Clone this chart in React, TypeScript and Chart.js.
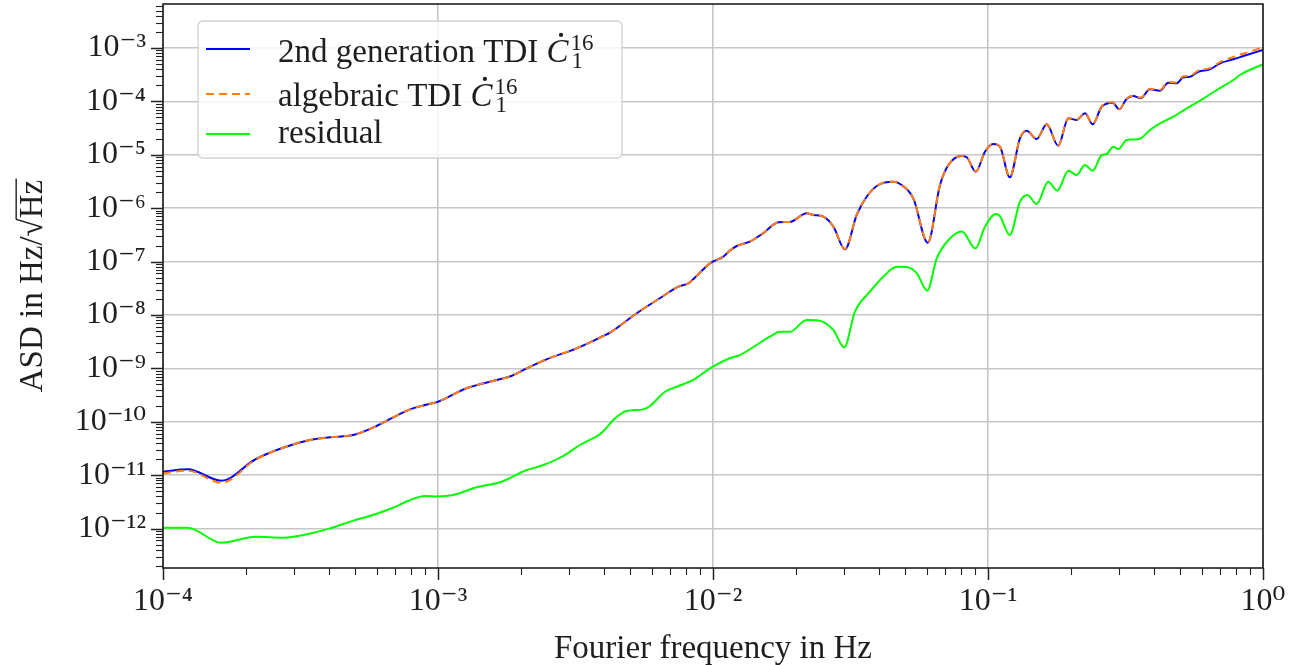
import React, { useEffect, useRef } from 'react';
import { Chart, registerables } from 'chart.js';

Chart.register(...registerables);

// ---------- data ----------
const freqMain = [
  1.0e-4, 1.23e-4, 1.63e-4, 2.17e-4, 2.73e-4, 3.42e-4, 4.05e-4, 4.92e-4, 5.8e-4, 7.8e-4,
  8.97e-4, 1.0e-3, 1.27e-3, 1.635e-3, 1.85e-3, 2.1e-3, 2.48e-3, 3.19e-3, 3.99e-3, 4.22e-3,
  5.28e-3, 6.41e-3, 7.48e-3, 8.13e-3, 8.47e-3, 9.75e-3, 1.09e-2, 1.15e-2, 1.22e-2, 1.36e-2,
  1.52e-2, 1.73e-2, 1.905e-2, 2.19e-2, 2.32e-2, 2.52e-2, 2.74e-2, 3.02e-2, 3.33e-2, 3.62e-2,
  3.99e-2, 4.53e-2, 4.79e-2, 5.35e-2, 6.04e-2, 6.69e-2, 7.18e-2, 8.02e-2, 8.37e-2, 9.03e-2,
  9.75e-2, 1.045e-1, 1.105e-1, 1.2e-1, 1.307e-1, 1.382e-1, 1.503e-1, 1.635e-1, 1.8e-1, 1.96e-1,
  2.1e-1, 2.253e-1, 2.403e-1, 2.59e-1, 2.84e-1, 3.0e-1, 3.19e-1, 3.375e-1, 3.59e-1, 3.88e-1,
  4.22e-1, 4.525e-1, 4.85e-1, 5.13e-1, 5.43e-1, 5.815e-1, 6.41e-1, 6.98e-1, 7.8e-1, 8.72e-1,
  1.0,
];

const asd2ndGen = [
  1.16e-11, 1.29e-11, 7.9e-12, 1.99e-11, 3.27e-11, 4.56e-11, 5.13e-11, 5.66e-11, 7.76e-11, 1.66e-10,
  2.06e-10, 2.38e-10, 4.24e-10, 6.07e-10, 7.21e-10, 1.0e-9, 1.48e-9, 2.38e-9, 4.05e-9, 4.67e-9,
  1.08e-8, 2.06e-8, 3.39e-8, 3.93e-8, 4.67e-8, 9.29e-8, 1.24e-7, 1.6e-7, 1.96e-7, 2.36e-7,
  3.39e-7, 5.45e-7, 5.52e-7, 8.02e-7, 7.46e-7, 6.93e-7, 4.51e-7, 1.7e-7, 7.46e-7, 1.64e-6,
  2.72e-6, 3.13e-6, 2.84e-6, 1.53e-6, 2.26e-7, 2.72e-6, 6.44e-6, 9.5e-6, 8.98e-6, 4.83e-6,
  1.14e-5, 1.59e-5, 1.42e-5, 3.79e-6, 2.04e-5, 2.83e-5, 1.98e-5, 3.73e-5, 1.48e-5, 4.83e-5,
  4.49e-5, 5.98e-5, 3.73e-5, 7.96e-5, 9.46e-5, 7.11e-5, 1.11e-4, 1.26e-4, 1.14e-4, 1.69e-4,
  1.59e-4, 2.24e-4, 2.18e-4, 2.83e-4, 2.9e-4, 3.6e-4, 3.99e-4, 5.17e-4, 6.14e-4, 7.4e-4,
  9.18e-4,
];

const asdAlgebraic = [
  1.08e-11, 1.22e-11, 7.2e-12, 1.95e-11, 3.27e-11, 4.56e-11, 5.13e-11, 5.66e-11, 7.76e-11, 1.66e-10,
  2.06e-10, 2.38e-10, 4.24e-10, 6.07e-10, 7.21e-10, 1.0e-9, 1.48e-9, 2.38e-9, 4.05e-9, 4.67e-9,
  1.08e-8, 2.06e-8, 3.39e-8, 3.93e-8, 4.67e-8, 9.29e-8, 1.24e-7, 1.6e-7, 1.96e-7, 2.36e-7,
  3.39e-7, 5.45e-7, 5.52e-7, 8.02e-7, 7.46e-7, 6.93e-7, 4.51e-7, 1.72e-7, 7.46e-7, 1.64e-6,
  2.72e-6, 3.13e-6, 2.84e-6, 1.53e-6, 2.3e-7, 2.72e-6, 6.44e-6, 9.5e-6, 8.98e-6, 4.9e-6,
  1.14e-5, 1.6e-5, 1.43e-5, 3.85e-6, 2.05e-5, 2.85e-5, 2.0e-5, 3.75e-5, 1.5e-5, 4.9e-5,
  4.55e-5, 6.05e-5, 3.8e-5, 8.1e-5, 9.6e-5, 7.2e-5, 1.13e-4, 1.28e-4, 1.17e-4, 1.73e-4,
  1.64e-4, 2.31e-4, 2.26e-4, 2.95e-4, 3.03e-4, 3.78e-4, 4.2e-4, 5.45e-4, 6.8e-4, 8.2e-4,
  1.02e-3,
];

const freqResidual = [
  1.0e-4, 1.23e-4, 1.63e-4, 2.17e-4, 2.73e-4, 3.37e-4, 4.05e-4, 4.92e-4, 5.8e-4, 6.86e-4,
  7.8e-4, 8.97e-4, 1.0e-3, 1.137e-3, 1.383e-3, 1.705e-3, 2.07e-3, 2.415e-3, 2.855e-3, 3.28e-3,
  3.94e-3, 4.4e-3, 4.85e-3, 5.58e-3, 5.9e-3, 6.69e-3, 7.38e-3, 8.47e-3, 9.88e-3, 1.15e-2,
  1.253e-2, 1.42e-2, 1.61e-2, 1.75e-2, 1.905e-2, 2.19e-2, 2.415e-2, 2.74e-2, 3.0e-2, 3.28e-2,
  3.72e-2, 4.16e-2, 4.66e-2, 5.06e-2, 5.51e-2, 6.01e-2, 6.51e-2, 7.18e-2, 8.04e-2, 9.0e-2,
  9.75e-2, 1.067e-1, 1.105e-1, 1.2e-1, 1.307e-1, 1.39e-1, 1.503e-1, 1.656e-1, 1.787e-1, 1.96e-1,
  2.1e-1, 2.253e-1, 2.403e-1, 2.59e-1, 2.7e-1, 2.855e-1, 2.98e-1, 3.19e-1, 3.36e-1, 3.59e-1,
  3.88e-1, 4.22e-1, 4.72e-1, 5.28e-1, 5.9e-1, 6.79e-1, 7.8e-1, 8.24e-1, 1.0,
];

const asdResidual = [
  1.04e-12, 1.04e-12, 5.44e-13, 7.05e-13, 6.76e-13, 7.92e-13, 1.01e-12, 1.41e-12, 1.8e-12, 2.46e-12,
  3.33e-12, 4.07e-12, 4.0e-12, 4.26e-12, 5.93e-12, 7.55e-12, 1.21e-11, 1.55e-11, 2.29e-11, 3.68e-11,
  6.25e-11, 1.16e-10, 1.59e-10, 1.71e-10, 1.98e-10, 3.66e-10, 4.54e-10, 6.07e-10, 1.05e-9, 1.55e-9,
  1.78e-9, 2.63e-9, 3.93e-9, 4.87e-9, 4.87e-9, 8.05e-9, 7.9e-9, 5.24e-9, 2.48e-9, 1.15e-8,
  2.73e-8, 5.21e-8, 8.02e-8, 7.9e-8, 6.04e-8, 2.85e-8, 1.15e-7, 2.54e-7, 3.66e-7, 1.77e-7,
  4.51e-7, 7.78e-7, 7.14e-7, 3.15e-7, 1.32e-6, 1.77e-6, 1.2e-6, 3.13e-6, 2.13e-6, 5.04e-6,
  4.19e-6, 6.44e-6, 5.04e-6, 9.91e-6, 1.035e-5, 1.42e-5, 1.285e-5, 1.89e-5, 1.93e-5, 2.04e-5,
  2.91e-5, 3.89e-5, 5.17e-5, 7.43e-5, 1.03e-4, 1.635e-4, 2.52e-4, 3.12e-4, 5.0e-4,
];

const seriesLabels = ['2nd generation TDI Ċ₁¹⁶', 'algebraic TDI Ċ₁¹⁶', 'residual'];

const xMajorTicks = [1e-4, 1e-3, 1e-2, 1e-1, 1];
const xTickLabels = ['10⁻⁴', '10⁻³', '10⁻²', '10⁻¹', '10⁰'];
const yMajorTicks = [1e-12, 1e-11, 1e-10, 1e-9, 1e-8, 1e-7, 1e-6, 1e-5, 1e-4, 1e-3];
const yTickLabels = ['10⁻¹²', '10⁻¹¹', '10⁻¹⁰', '10⁻⁹', '10⁻⁸', '10⁻⁷', '10⁻⁶', '10⁻⁵', '10⁻⁴', '10⁻³'];

const X_MIN = 1e-4;
const X_MAX = 1;
const Y_MIN = 1.83e-13;
const Y_MAX = 6.67e-3;

const X_TITLE = 'Fourier frequency in Hz';
const Y_TITLE = 'ASD in Hz/√Hz';

// ---------- styling ----------
const FONT = "'Liberation Serif', 'DejaVu Serif', serif";
const TEXT_COLOR = '#1e1e1e';
const TICK_SIZE = 32;
const TITLE_SIZE = 33;
const Y_TITLE_PAD = 14;
const GRID_COLOR = '#c6c6c6';

function allLogTicks(min: number, max: number, majors: number[]) {
  const out: { value: number; major: boolean }[] = [];
  const e0 = Math.floor(Math.log10(min));
  const e1 = Math.ceil(Math.log10(max));
  for (let e = e0; e <= e1; e++) {
    for (let m = 1; m < 10; m++) {
      const v = m * Math.pow(10, e);
      if (v >= min * 0.99999 && v <= max * 1.00001) {
        out.push({ value: v, major: m === 1 && majors.some((t) => Math.abs(t / v - 1) < 1e-6) });
      }
    }
  }
  return out;
}

function labelFor(value: number, majors: number[], labels: string[]) {
  const i = majors.findIndex((t) => Math.abs(t / value - 1) < 1e-6);
  return i >= 0 ? labels[i] : '';
}

function drawLegendLabel(ctx: CanvasRenderingContext2D, label: string, x: number, y: number, size: number) {
  const m = label.match(/^(.*)Ċ₁¹⁶$/);
  ctx.fillStyle = TEXT_COLOR;
  ctx.textBaseline = 'alphabetic';
  ctx.textAlign = 'left';
  ctx.font = `${size}px ${FONT}`;
  if (!m) {
    ctx.fillText(label, x, y);
    return;
  }
  const before = m[1];
  ctx.fillText(before, x, y);
  const cx = x + ctx.measureText(before).width;
  ctx.font = `italic ${size}px ${FONT}`;
  ctx.fillText('C', cx, y);
  const cw = ctx.measureText('C').width;
  ctx.beginPath();
  ctx.arc(cx + cw * 0.66, y - size * 0.82, size * 0.065, 0, Math.PI * 2);
  ctx.fill();
  const sx = cx + cw + 2;
  const small = Math.round(size * 0.7);
  ctx.font = `${small}px ${FONT}`;
  ctx.fillText('16', sx, y - size * 0.36);
  ctx.fillText('1', sx + 1, y + size * 0.19);
}

const decorPlugin = {
  id: 'decor',
  afterDatasetsDraw(chart: any) {
    const { ctx, chartArea: a, scales } = chart;
    const xs = scales.x;
    const ys = scales.y;
    ctx.save();

    // axes frame
    ctx.strokeStyle = '#111';
    ctx.lineWidth = 1.5;
    ctx.strokeRect(a.left, a.top, a.right - a.left, a.bottom - a.top);

    // outward tick marks
    ctx.strokeStyle = '#222';
    for (const t of xs.ticks) {
      const px = Math.round(xs.getPixelForValue(t.value)) + 0.5;
      ctx.lineWidth = t.major ? 1.5 : 1.1;
      ctx.beginPath();
      ctx.moveTo(px, a.bottom);
      ctx.lineTo(px, a.bottom + (t.major ? 12 : 7));
      ctx.stroke();
    }
    for (const t of ys.ticks) {
      const py = Math.round(ys.getPixelForValue(t.value)) + 0.5;
      ctx.lineWidth = t.major ? 1.5 : 1.1;
      ctx.beginPath();
      ctx.moveTo(a.left, py);
      ctx.lineTo(a.left - (t.major ? 12 : 7), py);
      ctx.stroke();
    }

    // overline of the square root in the y title
    ctx.font = `${TITLE_SIZE}px ${FONT}`;
    ctx.textBaseline = 'middle';
    const tw = ctx.measureText(Y_TITLE).width;
    const pre = Y_TITLE.slice(0, Y_TITLE.indexOf('√') + 1);
    const pw = ctx.measureText(pre).width;
    const asc = ctx.measureText('√').actualBoundingBoxAscent;
    const cy = (ys.top + ys.bottom) / 2;
    const tx = ys.left + Y_TITLE_PAD + (TITLE_SIZE * 1.2) / 2;
    const yStart = cy + tw / 2;
    ctx.strokeStyle = TEXT_COLOR;
    ctx.lineWidth = 1.4;
    ctx.beginPath();
    ctx.moveTo(tx - asc + 0.7, yStart - pw + 1);
    ctx.lineTo(tx - asc + 0.7, yStart - tw - 1);
    ctx.stroke();

    // legend
    const lx = a.left + 35;
    const ly = a.top + 17;
    const lw = 424;
    const lh = 137;
    ctx.beginPath();
    if (ctx.roundRect) ctx.roundRect(lx, ly, lw, lh, 5);
    else ctx.rect(lx, ly, lw, lh);
    ctx.fillStyle = 'rgba(255,255,255,0.8)';
    ctx.fill();
    ctx.strokeStyle = '#d2d2d2';
    ctx.lineWidth = 1.3;
    ctx.stroke();

    const rowLine = [28, 73, 113];
    const rowText = [41, 85, 122];
    chart.data.datasets.forEach((ds: any, i: number) => {
      ctx.save();
      ctx.strokeStyle = ds.borderColor;
      ctx.lineWidth = ds.borderWidth;
      ctx.setLineDash(ds.borderDash || []);
      ctx.beginPath();
      ctx.moveTo(lx + 8, ly + rowLine[i]);
      ctx.lineTo(lx + 52, ly + rowLine[i]);
      ctx.stroke();
      ctx.restore();
      drawLegendLabel(ctx, ds.label, lx + 80, ly + rowText[i], TITLE_SIZE);
    });

    ctx.restore();
  },
};

export default function App() {
  const canvasRef = useRef<HTMLCanvasElement | null>(null);

  useEffect(() => {
    if (!canvasRef.current) return;
    const xTicks = allLogTicks(X_MIN, X_MAX, xMajorTicks);
    const yTicks = allLogTicks(Y_MIN, Y_MAX, yMajorTicks);

    const chart = new Chart(canvasRef.current, {
      type: 'line',
      data: {
        datasets: [
          {
            label: seriesLabels[0],
            data: freqMain.map((f, i) => ({ x: f, y: asd2ndGen[i] })),
            borderColor: '#0000ff',
            borderWidth: 2,
            pointRadius: 0,
            cubicInterpolationMode: 'monotone',
            order: 3,
          },
          {
            label: seriesLabels[1],
            data: freqMain.map((f, i) => ({ x: f, y: asdAlgebraic[i] })),
            borderColor: '#ff7f0e',
            borderWidth: 2,
            borderDash: [8, 5],
            pointRadius: 0,
            cubicInterpolationMode: 'monotone',
            order: 2,
          },
          {
            label: seriesLabels[2],
            data: freqResidual.map((f, i) => ({ x: f, y: asdResidual[i] })),
            borderColor: '#00ff00',
            borderWidth: 2,
            pointRadius: 0,
            cubicInterpolationMode: 'monotone',
            order: 1,
          },
        ],
      },
      options: {
        animation: false,
        responsive: true,
        maintainAspectRatio: false,
        layout: { padding: { left: 0, top: 4, right: 31, bottom: 0 } },
        plugins: {
          legend: { display: false },
          tooltip: { enabled: false },
        },
        scales: {
          x: {
            type: 'logarithmic',
            min: X_MIN,
            max: X_MAX,
            afterBuildTicks: (s: any) => {
              s.ticks = xTicks.map((t) => ({ ...t }));
            },
            afterFit: (s: any) => {
              s.height = 97;
              s.paddingLeft = 0;
              s.paddingRight = 0;
            },
            ticks: {
              autoSkip: false,
              maxRotation: 0,
              minRotation: 0,
              padding: 14,
              color: TEXT_COLOR,
              font: { family: FONT, size: TICK_SIZE },
              callback: (v: any) => labelFor(Number(v), xMajorTicks, xTickLabels),
            },
            grid: {
              drawTicks: false,
              lineWidth: 1.6,
              color: (c: any) => (c.tick && c.tick.major ? GRID_COLOR : 'rgba(0,0,0,0)'),
            },
            border: { display: false },
            title: {
              display: true,
              text: X_TITLE,
              color: TEXT_COLOR,
              font: { family: FONT, size: TITLE_SIZE, lineHeight: 0.97 },
              padding: { top: 0, bottom: 0 },
            },
          },
          y: {
            type: 'logarithmic',
            min: Y_MIN,
            max: Y_MAX,
            afterBuildTicks: (s: any) => {
              s.ticks = yTicks.map((t) => ({ ...t }));
            },
            afterFit: (s: any) => {
              s.width = 163;
              s.paddingTop = 0;
              s.paddingBottom = 0;
            },
            ticks: {
              autoSkip: false,
              padding: 17,
              color: TEXT_COLOR,
              font: { family: FONT, size: TICK_SIZE },
              callback: (v: any) => labelFor(Number(v), yMajorTicks, yTickLabels),
            },
            grid: {
              drawTicks: false,
              lineWidth: 1.6,
              color: (c: any) => (c.tick && c.tick.major ? GRID_COLOR : 'rgba(0,0,0,0)'),
            },
            border: { display: false },
            title: {
              display: true,
              text: Y_TITLE,
              color: TEXT_COLOR,
              font: { family: FONT, size: TITLE_SIZE },
              padding: { top: Y_TITLE_PAD, bottom: 0 },
            },
          },
        },
      },
      plugins: [decorPlugin],
    } as any);

    return () => chart.destroy();
  }, []);

  return (
    <div style={{ position: 'fixed', left: 0, top: 0, width: 1294, height: 665, background: '#fff' }}>
      <canvas ref={canvasRef} />
    </div>
  );
}
